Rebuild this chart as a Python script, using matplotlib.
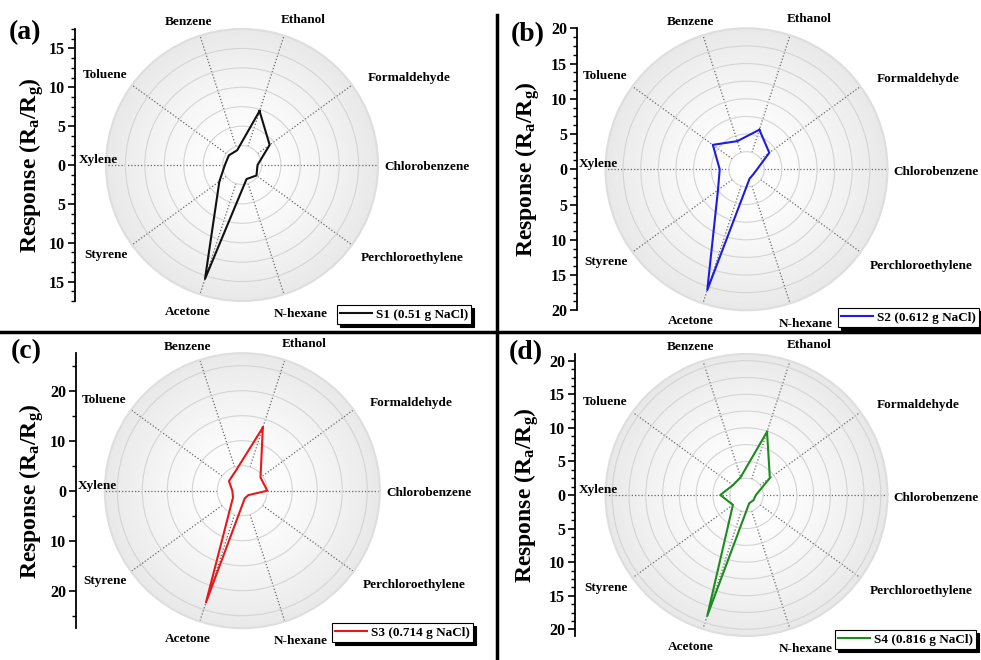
import numpy as np
import matplotlib.pyplot as plt
from matplotlib.lines import Line2D
from matplotlib.ticker import MultipleLocator, FuncFormatter

plt.rcParams['font.family'] = ['Liberation Serif', 'DejaVu Serif']
plt.rcParams['font.weight'] = 'bold'
plt.rcParams['mathtext.fontset'] = 'custom'
plt.rcParams['mathtext.rm'] = 'Liberation Serif:bold'
plt.rcParams['mathtext.it'] = 'Liberation Serif:bold'
plt.rcParams['mathtext.bf'] = 'Liberation Serif:bold'

# gases, clockwise starting from Ethanol (72 deg)
gases = ["Ethanol", "Formaldehyde", "Chlorobenzene", "Perchloroethylene", "N-hexane",
         "Acetone", "Styrene", "Xylene", "Toluene", "Benzene"]

# response (Ra/Rg)
s1 = [7.3, 4.4, 2.0, 2.3, 1.9, 15.4, 3.6, 2.2, 2.1, 2.0]
s2 = [5.9, 4.0, 1.5, 1.2, 1.4, 18.0, 5.0, 3.8, 5.9, 4.2]
s3 = [13.3, 4.5, 5.0, 1.5, 1.6, 23.5, 2.3, 2.0, 3.3, 4.2]
s4 = [9.9, 4.3, 1.4, 1.3, 1.3, 18.9, 2.5, 3.9, 2.5, 2.8]

labels = ["S1 (0.51 g NaCl)", "S2 (0.612 g NaCl)", "S3 (0.714 g NaCl)", "S4 (0.816 g NaCl)"]
colors = ["#111111", "#1c1ce6", "#e8181a", "#1c8c1c"]

W, H = 981, 660
fig = plt.figure(figsize=(W / 100, H / 100), dpi=100)

theta = np.deg2rad(72 - 36 * np.arange(len(gases)))

# label placement: (angle offset, radius factor, ha, va)
lab_pos = {
    "Ethanol": (2.5, 1.06, "left", "bottom"),
    "Formaldehyde": (-1.5, 1.125, "left", "center"),
    "Chlorobenzene": (-1, 1.045, "left", "center"),
    "Perchloroethylene": (-2, 1.11, "left", "center"),
    "N-hexane": (-5.6, 1.077, "left", "top"),
    "Acetone": (-3, 1.11, "center", "top"),
    "Styrene": (2, 1.07, "right", "center"),
    "Xylene": (-2.2, 0.915, "right", "center"),
    "Toluene": (-2, 1.07, "right", "center"),
    "Benzene": (3.5, 1.08, "center", "bottom"),
}

# cx, cy, R(px), rmax, grid step, major, minor, axis x, ylabel x, panel label, legend pos
panels = [
    dict(data=s1, tag="(a)", cx=242, cy=165, R=136, rmax=17.5, step=2.5, major=5, minor=1.25,
         axx=75, ylx=32, pl=(9, 33), leg=(337, 305)),
    dict(data=s2, tag="(b)", cx=746.5, cy=169.3, R=141, rmax=20, step=2.5, major=5, minor=1.25,
         axx=577, ylx=528, pl=(511, 35), leg=(838, 308)),
    dict(data=s3, tag="(c)", cx=242.3, cy=490.7, R=137.5, rmax=27.5, step=5, major=10, minor=5,
         axx=76, ylx=32, pl=(11, 352), leg=(332, 623)),
    dict(data=s4, tag="(d)", cx=746.5, cy=495, R=141, rmax=21, step=2.5, major=5, minor=1.25,
         axx=575, ylx=527, pl=(509, 353), leg=(835, 630)),
]

for i, p in enumerate(panels):
    cx, cy, R, rmax = p["cx"], p["cy"], p["R"], p["rmax"]
    ax = fig.add_axes([(cx - R) / W, 1 - (cy + R) / H, 2 * R / W, 2 * R / H], projection="polar")

    # radial gradient background
    th = np.linspace(0, 2 * np.pi, 181)
    rr = np.linspace(0, rmax, 80)
    T, RR = np.meshgrid(th, rr)
    C = 1 - 0.09 * (RR / rmax) ** 1.5
    ax.pcolormesh(T, RR, C, cmap="gray", vmin=0, vmax=1, shading="gouraud", zorder=0)

    ax.set_ylim(0, rmax)
    ax.set_rgrids(np.arange(p["step"], rmax + 0.01, p["step"]), labels=[])
    ax.set_thetagrids([])
    ax.yaxis.grid(True, color="#d4d4d4", lw=0.8, ls="-")
    ax.spines["polar"].set_color("#dedede")
    ax.spines["polar"].set_linewidth(1.5)

    for a in theta:
        ax.plot([a, a], [p["step"], rmax], color="#666666", lw=0.9, ls=(0, (1, 1.6)), zorder=1)

    vals = np.array(p["data"])
    ax.plot(np.append(theta, theta[0]), np.append(vals, vals[0]), color=colors[i], lw=1.5,
            label=labels[i], zorder=3)

    for g, a in zip(gases, theta):
        da, fr, ha, va = lab_pos[g]
        ax.text(a + np.deg2rad(da), rmax * fr, g, ha=ha, va=va, fontsize=9.5,
                fontweight="bold", clip_on=False)

    leg = ax.legend(loc="upper left", bbox_to_anchor=(p["leg"][0] / W, 1 - p["leg"][1] / H),
                    bbox_transform=fig.transFigure, fancybox=False,
                    shadow={"color": "k", "alpha": 1}, edgecolor="k", framealpha=1,
                    borderpad=0.25, handlelength=2.4, handletextpad=0.3, borderaxespad=0,
                    prop={"size": 9.5, "weight": "bold"})
    leg.get_frame().set_linewidth(0.8)

    # left response axis, mirrored about the centre
    lax = fig.add_axes([p["axx"] / W, 1 - (cy + R) / H, 0.0005, 2 * R / H])
    lax.set_ylim(-rmax, rmax)
    lax.patch.set_visible(False)
    for s in ["top", "right", "bottom"]:
        lax.spines[s].set_visible(False)
    lax.spines["left"].set_linewidth(1.3)
    lax.set_xticks([])
    lax.yaxis.set_major_locator(MultipleLocator(p["major"]))
    lax.yaxis.set_minor_locator(MultipleLocator(p["minor"]))
    lax.yaxis.set_major_formatter(FuncFormatter(lambda v, pos: f"{abs(v):g}"))
    lax.tick_params(axis="y", which="major", length=5, width=1.2, labelsize=11.5, pad=2)
    lax.tick_params(axis="y", which="minor", length=3, width=1)

    fig.text(p["ylx"] / W, 1 - cy / H, r"Response (R$_{\mathrm{a}}$/R$_{\mathrm{g}}$)",
             rotation=90, ha="center", va="center", fontsize=17, fontweight="bold")
    fig.text(p["pl"][0] / W, 1 - p["pl"][1] / H, p["tag"], ha="left", va="center",
             fontsize=20, fontweight="bold")

# panel separators
fig.add_artist(Line2D([0, 1], [1 - 332 / H, 1 - 332 / H], transform=fig.transFigure, color="k", lw=2.5))
fig.add_artist(Line2D([497 / W, 497 / W], [0, 1 - 15 / H], transform=fig.transFigure, color="k", lw=2.5))

fig.savefig("out.png", dpi=100)
